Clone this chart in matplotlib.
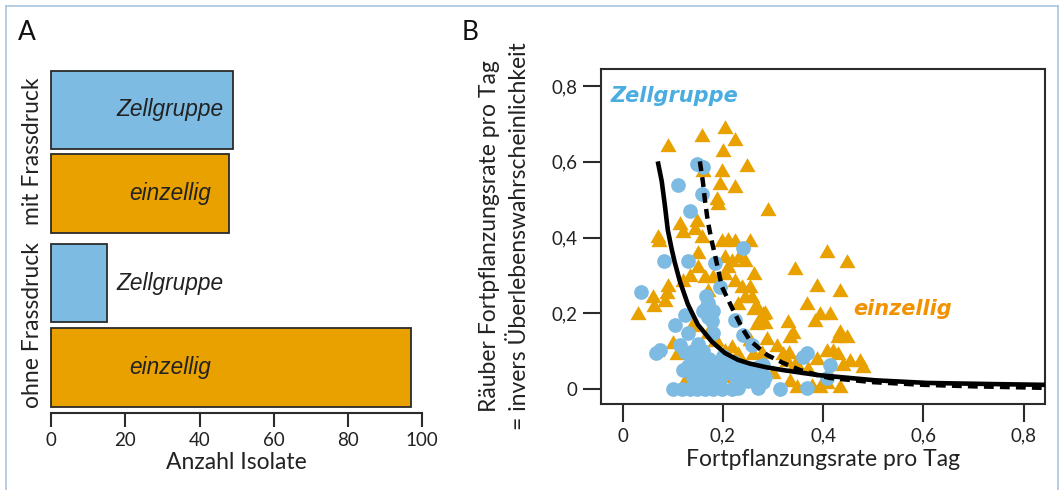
import matplotlib
matplotlib.use("Agg")
import matplotlib.pyplot as plt
from matplotlib.lines import Line2D

# ---------------- data ----------------
bar_conditions = ["mit Frassdruck", "mit Frassdruck", "ohne Frassdruck", "ohne Frassdruck"]
bar_types = ["Zellgruppe", "einzellig", "Zellgruppe", "einzellig"]
bar_values = [49, 48, 15, 97]
group_labels = ["mit Frassdruck", "ohne Frassdruck"]
xticks_a = [0, 20, 40, 60, 80, 100]

tri_x = [0.090, 0.158, 0.204, 0.224, 0.200, 0.248, 0.198, 0.160, 0.194, 0.224,
         0.188, 0.190, 0.290, 0.070, 0.072, 0.114, 0.120, 0.148, 0.144, 0.158,
         0.198, 0.210, 0.224, 0.254, 0.408, 0.344, 0.448, 0.388, 0.434, 0.368,
         0.394, 0.414, 0.384, 0.434, 0.430, 0.448, 0.330, 0.334, 0.268, 0.280,
         0.284, 0.268, 0.262, 0.254, 0.258, 0.288, 0.320, 0.328, 0.388, 0.408,
         0.420, 0.430, 0.454, 0.474, 0.480, 0.434, 0.394, 0.348, 0.334, 0.030,
         0.088, 0.084, 0.090, 0.060, 0.068, 0.108, 0.124, 0.134, 0.120, 0.150,
         0.164, 0.180, 0.170, 0.204, 0.210, 0.224, 0.238, 0.244, 0.230, 0.204,
         0.218, 0.232, 0.244, 0.138, 0.184, 0.204, 0.198, 0.218, 0.230, 0.124,
         0.138, 0.346, 0.331, 0.308, 0.370, 0.410, 0.440, 0.278, 0.255, 0.300,
         0.407, 0.377, 0.170, 0.186, 0.100, 0.339, 0.262, 0.285, 0.274, 0.063,
         0.150, 0.150, 0.200, 0.240, 0.260]
tri_y = [0.640, 0.665, 0.686, 0.654, 0.625, 0.585, 0.572, 0.572, 0.540, 0.532,
         0.500, 0.487, 0.469, 0.400, 0.387, 0.434, 0.413, 0.440, 0.420, 0.400,
         0.387, 0.390, 0.387, 0.387, 0.360, 0.315, 0.334, 0.270, 0.257, 0.223,
         0.196, 0.196, 0.178, 0.148, 0.135, 0.135, 0.175, 0.135, 0.215, 0.195,
         0.172, 0.170, 0.300, 0.267, 0.240, 0.130, 0.090, 0.072, 0.077, 0.098,
         0.098, 0.090, 0.072, 0.072, 0.055, 0.003, 0.003, 0.003, 0.018, 0.196,
         0.250, 0.230, 0.270, 0.240, 0.098, 0.090, 0.098, 0.297, 0.283, 0.320,
         0.294, 0.294, 0.257, 0.302, 0.320, 0.283, 0.267, 0.240, 0.222, 0.347,
         0.336, 0.347, 0.336, 0.164, 0.125, 0.098, 0.077, 0.109, 0.090, 0.018,
         0.005, 0.066, 0.093, 0.110, 0.050, 0.040, 0.060, 0.093, 0.128, 0.040,
         0.013, 0.004, 0.146, 0.128, 0.120, 0.146, 0.208, 0.199, 0.181, 0.216,
         0.357, 0.050, 0.030, 0.060, 0.090]

circ_x = [0.037, 0.148, 0.160, 0.110, 0.158, 0.134, 0.240, 0.082, 0.130, 0.184,
          0.194, 0.166, 0.170, 0.174, 0.180, 0.166, 0.160, 0.178, 0.170, 0.124,
          0.104, 0.130, 0.180, 0.224, 0.240, 0.258, 0.074, 0.066, 0.114, 0.124,
          0.134, 0.144, 0.154, 0.168, 0.180, 0.194, 0.208, 0.222, 0.234, 0.154,
          0.174, 0.194, 0.100, 0.118, 0.134, 0.148, 0.164, 0.180, 0.198, 0.218,
          0.280, 0.268, 0.280, 0.270, 0.314, 0.368, 0.360, 0.368, 0.414, 0.408,
          0.209, 0.235, 0.178, 0.270, 0.285, 0.140, 0.150, 0.160, 0.172, 0.190,
          0.200, 0.212, 0.222, 0.245, 0.250, 0.230, 0.160, 0.140, 0.120, 0.130]
circ_y = [0.256, 0.593, 0.585, 0.540, 0.514, 0.469, 0.373, 0.338, 0.338, 0.332,
          0.270, 0.245, 0.228, 0.212, 0.205, 0.215, 0.205, 0.180, 0.190, 0.196,
          0.170, 0.148, 0.148, 0.183, 0.143, 0.115, 0.103, 0.095, 0.115, 0.098,
          0.090, 0.080, 0.067, 0.054, 0.050, 0.045, 0.045, 0.037, 0.028, 0.045,
          0.032, 0.024, 0.000, 0.000, 0.000, 0.000, 0.000, 0.000, 0.000, 0.000,
          0.064, 0.037, 0.019, 0.003, 0.000, 0.095, 0.085, 0.003, 0.064, 0.030,
          0.049, 0.031, 0.022, 0.057, 0.031, 0.100, 0.118, 0.100, 0.080, 0.070,
          0.088, 0.060, 0.070, 0.050, 0.020, 0.003, 0.020, 0.030, 0.050, 0.060]

solid_x = [0.070, 0.078, 0.084, 0.090, 0.098, 0.104, 0.114, 0.130, 0.150, 0.178,
           0.204, 0.230, 0.254, 0.288, 0.320, 0.388, 0.454, 0.504, 0.608, 0.740, 0.843]
solid_y = [0.601, 0.548, 0.487, 0.420, 0.368, 0.334, 0.285, 0.224, 0.170, 0.125,
           0.095, 0.077, 0.067, 0.057, 0.050, 0.037, 0.029, 0.023, 0.016, 0.013, 0.011]
dashed_x = [0.154, 0.160, 0.164, 0.170, 0.178, 0.184, 0.198, 0.218, 0.238, 0.254,
            0.288, 0.320, 0.354, 0.388, 0.414, 0.500, 0.600, 0.700, 0.843]
dashed_y = [0.601, 0.548, 0.500, 0.442, 0.389, 0.355, 0.270, 0.215, 0.162, 0.128,
            0.090, 0.069, 0.050, 0.037, 0.029, 0.018, 0.011, 0.007, 0.003]

ticks_b = [0, 0.2, 0.4, 0.6, 0.8]
ticklabels_b = ["0", "0,2", "0,4", "0,6", "0,8"]

# ---------------- style ----------------
W, H = 1060, 490
BLUE = "#7DBBE2"
ORANGE = "#E9A100"
EDGE = "#2b2b2b"
FONT = "Lato"
plt.rcParams["font.family"] = [FONT, "DejaVu Sans"]

fig = plt.figure(figsize=(W / 100, H / 100), dpi=100)


def fx(px):
    return px / W


def fy(py):
    return 1 - py / H


# border frame (left, top, right)
bc = "#A9C3DD"
fig.add_artist(Line2D([fx(6), fx(6)], [0, fy(6.5)], color=bc, lw=1.2))
fig.add_artist(Line2D([fx(6), fx(1058)], [fy(6.5), fy(6.5)], color=bc, lw=1.2))
fig.add_artist(Line2D([fx(1058), fx(1058)], [0, fy(6.5)], color=bc, lw=1.2))

# ---------------- panel A ----------------
axA = fig.add_axes([fx(51), fy(413), fx(422.3) - fx(51), fy(68) - fy(413)])
positions = [3.22, 2.175, 1.056, 0.0]
colors = [BLUE if t == "Zellgruppe" else ORANGE for t in bar_types]
axA.barh(positions, bar_values, height=0.98, color=colors, edgecolor=EDGE,
         linewidth=1.3, clip_on=False)
for p, t in zip(positions, bar_types):
    axA.text(32, p, t, ha="center", va="center", fontsize=16.3,
             family="Liberation Sans", style="italic", color="#222222")
axA.set_xlim(0, 100)
axA.set_ylim(-0.569, 3.744)
for s in ["left", "right", "top"]:
    axA.spines[s].set_visible(False)
axA.spines["bottom"].set_linewidth(1.5)
axA.spines["bottom"].set_color(EDGE)
axA.set_yticks([])
axA.set_xticks(xticks_a)
axA.set_xticklabels([str(v) for v in xticks_a])
axA.tick_params(axis="x", length=10, width=1.5, color=EDGE, pad=4,
                labelsize=13.5, labelcolor="#222222")
axA.set_xlabel("Anzahl Isolate", fontsize=16.5, color="#222222", labelpad=2)

for lbl, (y0, y1) in zip(group_labels, [(positions[0], positions[1]), (positions[2], positions[3])]):
    ymid = (y0 + y1) / 2
    axA.text(-0.050, ymid, lbl, transform=axA.get_yaxis_transform(),
             rotation=90, ha="center", va="center", fontsize=16.5, color="#222222")

fig.text(fx(18), fy(33), "A", fontsize=19, ha="left", va="center", color="#111111")

# ---------------- panel B ----------------
axB = fig.add_axes([fx(600.7), fy(404), fx(1045) - fx(600.7), fy(69) - fy(404)])
tri_marker = [(-1, -0.577), (1, -0.577), (0, 1.155)]
axB.scatter(tri_x, tri_y, marker=tri_marker, s=180, color=ORANGE, linewidths=0,
            zorder=2)
axB.scatter(circ_x, circ_y, marker="o", s=112, color=BLUE, linewidths=0, zorder=3)
axB.plot(dashed_x, dashed_y, color="black", lw=3.2, linestyle=(0, (2.2, 1.4)),
         dash_capstyle="butt", zorder=4)
axB.plot(solid_x, solid_y, color="black", lw=3.3, solid_capstyle="butt", zorder=5)

axB.set_xlim(-0.0439, 0.8429)
axB.set_ylim(-0.0396, 0.845)
axB.set_xticks(ticks_b)
axB.set_xticklabels(ticklabels_b)
axB.set_yticks(ticks_b)
axB.set_yticklabels(ticklabels_b)
for s in axB.spines.values():
    s.set_linewidth(1.5)
    s.set_color(EDGE)
axB.tick_params(axis="both", length=13, width=1.5, color=EDGE, pad=4,
                labelsize=13.5, labelcolor="#222222")
axB.set_xlabel("Fortpflanzungsrate pro Tag", fontsize=16.5, color="#222222",
               labelpad=3)

axB.text(-0.025, 0.774, "Zellgruppe", ha="left", va="center", fontsize=15,
         family="DejaVu Sans", weight="bold", style="italic", color="#4AADE0",
         zorder=6)
axB.text(0.46, 0.212, "einzellig", ha="left", va="center", fontsize=15,
         family="DejaVu Sans", weight="bold", style="italic", color="#F39200",
         zorder=6)

ymid_px = (69 + 404) / 2
fig.text(fx(490), fy(ymid_px), "Räuber Fortpflanzungsrate pro Tag", rotation=90,
         ha="center", va="center", fontsize=16.5, color="#222222")
fig.text(fx(520), fy(ymid_px), "= invers Überlebenswahrscheinlichkeit", rotation=90,
         ha="center", va="center", fontsize=16.5, color="#222222")

fig.text(fx(462), fy(33), "B", fontsize=19, ha="left", va="center", color="#111111")

fig.savefig("out.png", dpi=100)
